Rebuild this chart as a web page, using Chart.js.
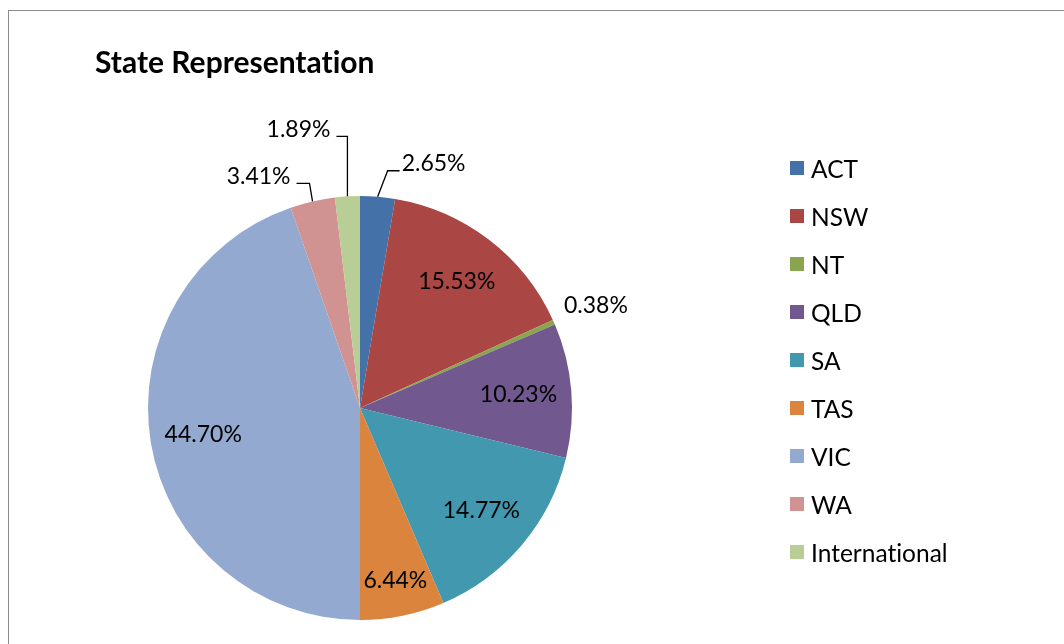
<!DOCTYPE html>
<html>
<head>
<meta charset="utf-8">
<title>State Representation</title>
<script src="https://cdn.jsdelivr.net/npm/chart.js@4.4.0/dist/chart.umd.min.js"></script>
<style>
  html, body { margin: 0; padding: 0; background: #fff; overflow: hidden; }
  #wrap { position: relative; width: 1064px; height: 644px; }
  #frame { position: absolute; left: 8px; top: 10px; width: 1100px; height: 700px; border: 1px solid #8c8c8c; }
  #stateChart { position: absolute; left: 0; top: 0; }
  #legend { position: absolute; left: 790px; top: 144px; font-family: Lato, sans-serif; font-size: 24.5px; color: #000; font-variant-ligatures: none; }
  .item { height: 48px; display: flex; align-items: center; }
  .swatch { width: 14px; height: 14px; margin-right: 7px; }
</style>
</head>
<body>
<div id="wrap">
  <div id="frame"></div>
  <canvas id="stateChart" width="1064" height="644"></canvas>
  <div id="legend"></div>
</div>
<script>
const states = ['ACT', 'NSW', 'NT', 'QLD', 'SA', 'TAS', 'VIC', 'WA', 'International'];
const shares = [2.65, 15.53, 0.38, 10.23, 14.77, 6.44, 44.70, 3.41, 1.89];
const sliceColors = ['#4371a8', '#aa4643', '#89a54e', '#71588f', '#4198af', '#db843d', '#93a9cf', '#d19392', '#b9cd96'];

// small slices get their label outside, some with a leader line
const callouts = {
    ACT: { dx: 10, dy: -26, run: 12 },
    NT: { dx: 42, dy: -17, run: 0 },
    WA: { dx: -3, dy: -18, run: -13 },
    International: { dx: 0, dy: -60, run: -11 }
};

const labelPlugin = {
    id: 'pieLabels',
    beforeDraw(chart) {
        // no "ti" ligature in the title
        chart.ctx.textRendering = 'optimizeSpeed';
    },
    afterDatasetsDraw(chart) {
        const ctx = chart.ctx;
        const meta = chart.getDatasetMeta(0);
        ctx.save();
        ctx.font = '23px Lato';
        ctx.fillStyle = '#000';
        ctx.strokeStyle = '#000';
        ctx.lineWidth = 1.3;
        ctx.textBaseline = 'middle';

        meta.data.forEach((arc, i) => {
            const p = arc.getProps(['x', 'y', 'startAngle', 'endAngle', 'outerRadius'], true);
            const mid = (p.startAngle + p.endAngle) / 2;
            const cos = Math.cos(mid);
            const sin = Math.sin(mid);
            const text = shares[i].toFixed(2) + '%';
            const c = callouts[states[i]];

            if (!c) {
                const f = shares[i] < 8 ? 0.83 : 0.75;
                ctx.textAlign = 'center';
                ctx.fillText(text, p.x + cos * p.outerRadius * f, p.y + sin * p.outerRadius * f);
                return;
            }

            const ex = p.x + cos * p.outerRadius;
            const ey = p.y + sin * p.outerRadius;
            const kx = ex + c.dx;
            const ky = ey + c.dy;

            if (c.run === 0) {
                ctx.textAlign = 'center';
                ctx.fillText(text, kx, ky);
                return;
            }

            ctx.beginPath();
            ctx.moveTo(ex, ey);
            ctx.lineTo(kx, ky);
            ctx.lineTo(kx + c.run, ky);
            ctx.stroke();

            ctx.textAlign = c.run > 0 ? 'left' : 'right';
            ctx.fillText(text, kx + c.run + (c.run > 0 ? 2 : -6), ky - 7);
        });
        ctx.restore();
    }
};

const chart = new Chart(document.getElementById('stateChart').getContext('2d'), {
    type: 'pie',
    data: {
        labels: states,
        datasets: [{
            data: shares,
            backgroundColor: sliceColors,
            borderWidth: 0
        }]
    },
    options: {
        responsive: false,
        animation: false,
        layout: {
            padding: { left: 95, right: 439, top: 0, bottom: 24 }
        },
        plugins: {
            legend: { display: false },
            tooltip: { enabled: false },
            title: {
                display: true,
                text: 'State Representation',
                align: 'start',
                color: '#000',
                font: { family: 'Lato', size: 30, weight: 'bold' },
                padding: { top: 45, bottom: 115 }
            }
        }
    },
    plugins: [labelPlugin]
});

// html legend from the chart's own data
const legendEl = document.getElementById('legend');
chart.data.labels.forEach((label, i) => {
    const row = document.createElement('div');
    row.className = 'item';
    const box = document.createElement('span');
    box.className = 'swatch';
    box.style.background = sliceColors[i];
    const txt = document.createElement('span');
    txt.textContent = label;
    row.appendChild(box);
    row.appendChild(txt);
    legendEl.appendChild(row);
});
</script>
</body>
</html>
